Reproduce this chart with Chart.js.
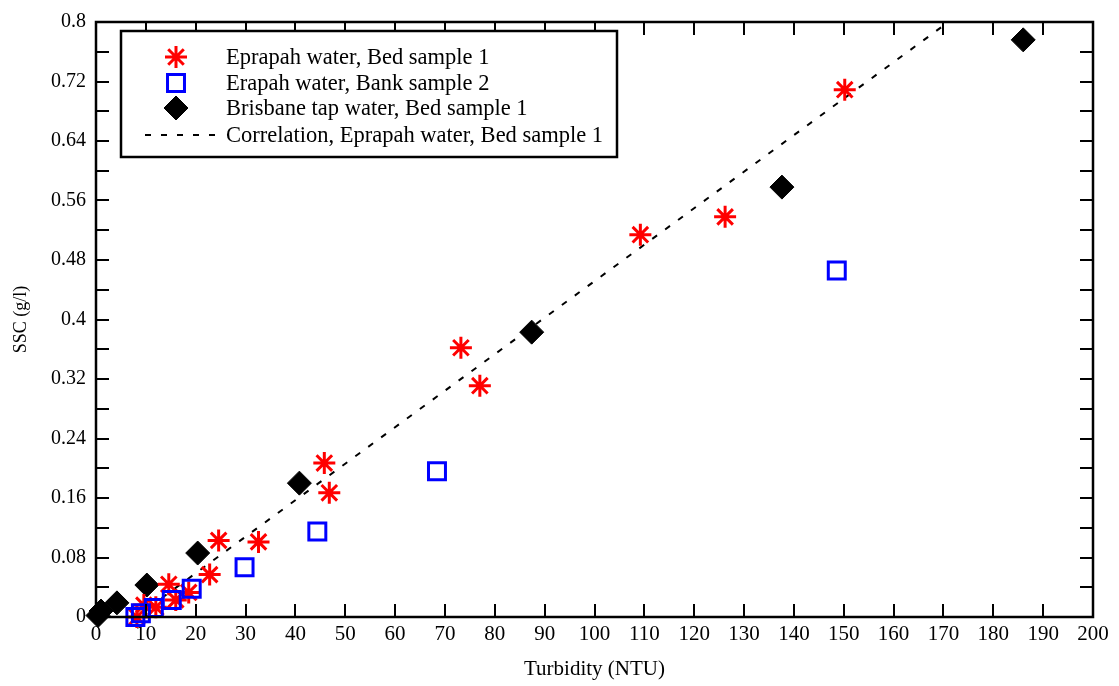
<!DOCTYPE html>
<html>
<head>
<meta charset="utf-8">
<script src="https://cdn.jsdelivr.net/npm/chart.js@4.4.1/dist/chart.umd.min.js"></script>
<style>
html,body{margin:0;padding:0;background:#fff;}
#wrap{width:1119px;height:686px;}
</style>
</head>
<body>
<div id="wrap"><canvas id="c" width="1119" height="686"></canvas></div>
<script>
// Data
const bedTurbidity = [150.2, 126.2, 109.2, 73.2, 77.0, 45.8, 46.8, 32.6, 24.6, 22.8, 14.6, 18.6, 16.0, 12.0, 9.6, 8.2];
const bedSSC       = [0.709, 0.538, 0.514, 0.362, 0.311, 0.207, 0.167, 0.101, 0.103, 0.057, 0.044, 0.033, 0.023, 0.013, 0.016, 0.0];

const bankTurbidity = [148.6, 68.4, 44.4, 29.8, 19.2, 15.2, 11.6, 9.0, 7.9];
const bankSSC       = [0.466, 0.196, 0.115, 0.067, 0.038, 0.023, 0.012, 0.005, 0.0];

const tapTurbidity = [186.0, 137.6, 87.4, 40.8, 20.4, 10.2, 4.2, 1.0, 0.4];
const tapSSC       = [0.776, 0.578, 0.383, 0.180, 0.086, 0.043, 0.019, 0.008, 0.002];

const corrTurbidity = [8.0, 171.0];
const corrSSC       = [0.0, 0.800];

const seriesNames = [
  "Eprapah water, Bed sample 1",
  "Erapah water, Bank sample 2",
  "Brisbane tap water, Bed sample 1",
  "Correlation, Eprapah water, Bed sample 1"
];

const xTitle = "Turbidity (NTU)";
const yTitle = "SSC (g/l)";

const pts = (xs, ys) => xs.map((x, i) => ({x: x, y: ys[i]}));
const FONT = "'Liberation Serif', 'Times New Roman', serif";

const insideTicks = {
  id: 'insideTicks',
  afterDraw(chart) {
    const ctx = chart.ctx, a = chart.chartArea;
    const xs = chart.scales.x, ys = chart.scales.y;
    ctx.save();
    ctx.strokeStyle = '#000';
    ctx.lineWidth = 2;
    const L = 13;
    xs.ticks.forEach(t => {
      const p = Math.round(xs.getPixelForValue(t.value));
      ctx.beginPath();
      ctx.moveTo(p, a.bottom); ctx.lineTo(p, a.bottom - L);
      ctx.moveTo(p, a.top); ctx.lineTo(p, a.top + L);
      ctx.stroke();
    });
    ys.ticks.forEach(t => {
      const p = Math.round(ys.getPixelForValue(t.value));
      ctx.beginPath();
      ctx.moveTo(a.left, p); ctx.lineTo(a.left + L, p);
      ctx.moveTo(a.right, p); ctx.lineTo(a.right - L, p);
      ctx.stroke();
    });
    ctx.lineWidth = 2.5;
    ctx.strokeRect(a.left, a.top, a.right - a.left, a.bottom - a.top);

    // legend box
    const bx = 121, by = 31, bw = 496, bh = 126;
    ctx.fillStyle = '#fff';
    ctx.fillRect(bx, by, bw, bh);
    ctx.lineWidth = 2.5;
    ctx.strokeStyle = '#000';
    ctx.strokeRect(bx, by, bw, bh);
    const rowsY = [57, 83, 108, 135];
    const mx = 176, tx = 226;
    const ds = chart.data.datasets;
    for (let i = 0; i < 3; i++) {
      const d = ds[i];
      ctx.save();
      ctx.lineWidth = d.borderWidth;
      ctx.strokeStyle = d.borderColor;
      ctx.fillStyle = d.backgroundColor;
      Chart.helpers.drawPoint(ctx, {pointStyle: d.pointStyle, radius: d.legendRadius, rotation: 0, borderWidth: d.borderWidth}, mx, rowsY[i]);
      ctx.restore();
    }
    ctx.save();
    ctx.strokeStyle = '#000';
    ctx.lineWidth = 2;
    ctx.setLineDash([6, 10]);
    ctx.beginPath();
    ctx.moveTo(145, rowsY[3]); ctx.lineTo(215, rowsY[3]);
    ctx.stroke();
    ctx.restore();
    ctx.fillStyle = '#000';
    ctx.font = "22.5px " + FONT;
    ctx.textBaseline = 'middle';
    ctx.textAlign = 'left';
    seriesNames.forEach((n, i) => ctx.fillText(n, tx, rowsY[i] + 1));
    ctx.restore();
  }
};

new Chart(document.getElementById('c'), {
  type: 'scatter',
  data: {
    datasets: [
      {
        label: seriesNames[0],
        data: pts(bedTurbidity, bedSSC),
        pointStyle: 'star',
        pointRadius: 11,
        legendRadius: 11,
        borderColor: '#ff0000',
        backgroundColor: '#ff0000',
        borderWidth: 3,
        order: 1
      },
      {
        label: seriesNames[1],
        data: pts(bankTurbidity, bankSSC),
        pointStyle: 'rect',
        pointRadius: 12,
        legendRadius: 12,
        borderColor: '#0000ff',
        backgroundColor: 'rgba(0,0,0,0)',
        borderWidth: 3,
        order: 0
      },
      {
        label: seriesNames[2],
        data: pts(tapTurbidity, tapSSC),
        pointStyle: 'rectRot',
        pointRadius: 12,
        legendRadius: 12,
        borderColor: '#000000',
        backgroundColor: '#000000',
        borderWidth: 1,
        order: 2
      },
      {
        type: 'line',
        label: seriesNames[3],
        data: pts(corrTurbidity, corrSSC),
        borderColor: '#000',
        borderWidth: 2,
        borderDash: [6, 10],
        pointRadius: 0,
        fill: false,
        order: 3
      }
    ]
  },
  options: {
    responsive: false,
    animation: false,
    clip: false,
    layout: {padding: {left: 0, top: 18, right: 26, bottom: 0}},
    plugins: {legend: {display: false}, tooltip: {enabled: false}},
    scales: {
      x: {
        type: 'linear',
        min: 0, max: 200,
        afterFit: s => { s.height = 69; },
        ticks: {stepSize: 10, color: '#000', padding: 5, font: {family: FONT, size: 21}, maxRotation: 0, autoSkip: false},
        grid: {display: true, drawOnChartArea: false, drawTicks: false},
        border: {display: false},
        title: {display: true, text: xTitle, color: '#000', font: {family: FONT, size: 21}, padding: {top: 0, bottom: 4}}
      },
      y: {
        type: 'linear',
        min: 0, max: 0.8,
        afterFit: s => { s.width = 96; },
        ticks: {
          stepSize: 0.04, color: '#000', padding: 10, autoSkip: false,
          font: {family: FONT, size: 20},
          callback: v => {
            const k = Math.round(v / 0.04);
            return k % 2 === 0 ? String(Number((k * 0.04).toFixed(2))) : '';
          }
        },
        grid: {display: true, drawOnChartArea: false, drawTicks: false},
        border: {display: false},
        title: {display: true, text: yTitle, color: '#000', font: {family: FONT, size: 18}, padding: {top: 10, bottom: 4}}
      }
    }
  },
  plugins: [insideTicks]
});
</script>
</body>
</html>
